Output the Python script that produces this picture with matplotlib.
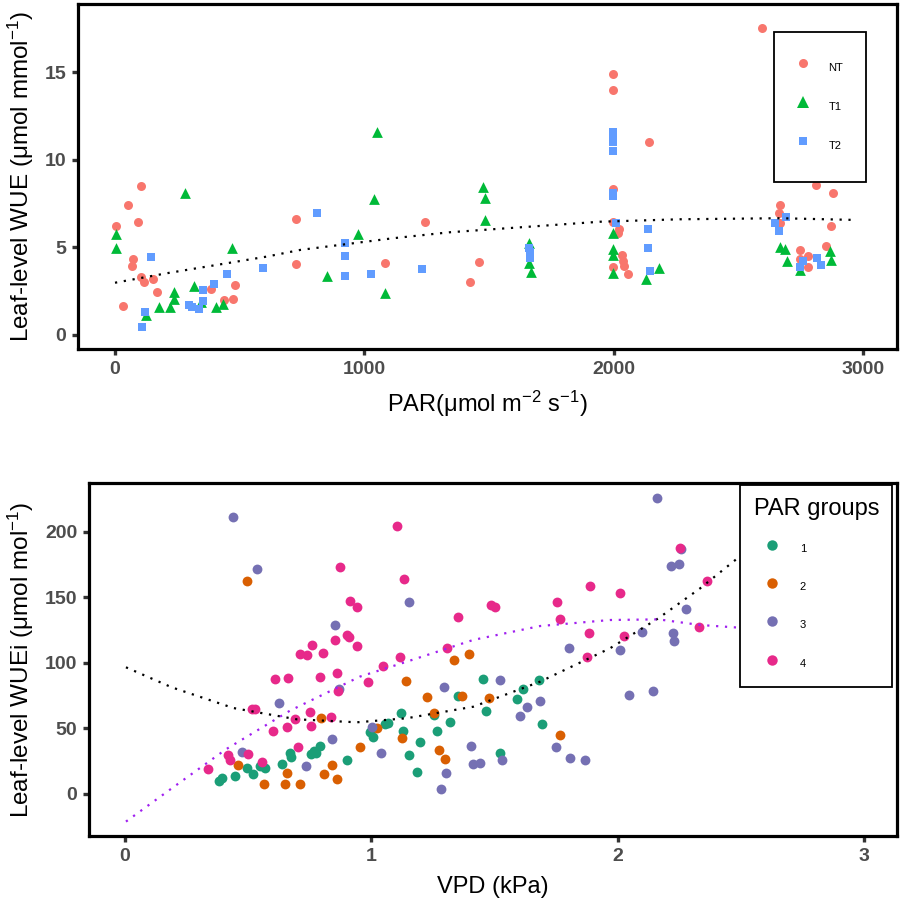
import matplotlib
matplotlib.use("Agg")
import matplotlib.pyplot as plt
from matplotlib import font_manager
from matplotlib.lines import Line2D

# ---------------- data: top panel ----------------
nt_par = [103, 51, 94, 3, 73, 68, 105, 118, 152, 170, 32, 384, 480, 436, 473, 724, 724, 1084,
          1244, 1460, 1422, 2593, 1997, 1997, 2141, 1997, 1997, 2022, 2015, 2033, 2036, 2040,
          1997, 2058, 2809, 2877, 2668, 2661, 2665, 2871, 2745, 2745, 2780, 2780, 2851]
nt_wue = [8.5, 7.4, 6.46, 6.2, 4.34, 3.95, 3.3, 3.05, 3.18, 2.45, 1.65, 2.64, 2.87, 2.0, 2.04, 6.6, 4.07, 4.1,
          6.46, 4.18, 3.0, 17.5, 14.9, 13.98, 11.0, 8.35, 6.46, 6.06, 5.8, 4.56, 4.24, 3.95,
          3.88, 3.48, 8.56, 8.12, 7.43, 6.94, 6.4, 6.24, 4.85, 4.32, 4.5, 3.9, 5.1]

t1_par = [3, 3, 282, 469, 317, 238, 238, 178, 222, 123, 346, 406, 434, 1049, 1038, 974, 851, 1083,
          1477, 1482, 1482, 1661, 1661, 1668, 1997, 1997, 1997, 1997, 2129, 2182, 2668, 2685,
          2693, 2747, 2867, 2870]
t1_wue = [5.78, 4.98, 8.1, 4.98, 2.81, 2.43, 2.07, 1.62, 1.58, 1.12, 1.86, 1.58, 1.77, 11.6, 7.76, 5.78, 3.38, 2.41,
          8.46, 7.8, 6.56, 5.23, 4.09, 3.61, 5.8, 4.89, 4.56, 3.55, 3.19, 3.8, 5.04, 4.89,
          4.22, 3.7, 4.81, 4.28]

t2_par = [144, 122, 107, 295, 307, 337, 351, 353, 398, 448, 595, 809, 922, 922, 922, 1028, 1231,
          1661, 1665, 1665, 1665, 1997, 1997, 1997, 1997, 1997, 1997, 2007, 2138, 2138, 2144,
          2689, 2646, 2664, 2747, 2813, 2832, 2760]
t2_wue = [4.45, 1.31, 0.47, 1.69, 1.61, 1.5, 1.94, 2.55, 2.91, 3.48, 3.84, 6.98, 5.27, 4.53, 3.37, 3.5, 3.75,
          4.95, 4.75, 4.5, 4.37, 11.6, 11.3, 11.0, 10.5, 8.1, 7.95, 6.4, 6.03, 4.95, 3.67,
          6.75, 6.4, 5.95, 3.9, 4.37, 4.0, 4.2]

# fitted curve
fit_par = [0, 207, 608, 742, 1116, 1343, 1945, 2265, 2666, 2974]
fit_wue = [2.98, 3.52, 4.47, 4.85, 5.52, 5.86, 6.46, 6.60, 6.66, 6.56]

# ---------------- data: bottom panel ----------------
g1_vpd = [0.383, 0.392, 0.447, 0.495, 0.520, 0.548, 0.568, 0.636, 0.670, 0.675, 0.754, 0.767, 0.777, 0.792,
          0.900, 1.353, 1.452, 1.681, 1.617, 1.592, 1.466, 1.692, 1.122, 1.256, 1.318, 1.069, 1.056,
          0.993, 1.007, 1.130, 1.268, 1.198, 1.154, 1.184, 1.524]
g1_wue = [9.9, 12.0, 13.7, 19.8, 15.3, 21.4, 19.8, 22.6, 31.0, 28.0, 30.3, 33.1, 31.0, 36.9,
          26.0, 75.1, 87.6, 87.3, 80.2, 72.8, 63.1, 53.4, 62.1, 60.3, 54.7, 54.2, 53.4,
          47.6, 43.7, 48.3, 48.3, 39.9, 30.0, 17.0, 31.5]

g2_vpd = [0.494, 0.794, 0.460, 0.656, 0.566, 0.651, 0.711, 0.807, 0.840, 0.861, 0.955, 1.337, 1.397,
          1.142, 1.228, 1.370, 1.477, 1.256, 1.023, 1.126, 1.275, 1.299, 1.767]
g2_wue = [162.6, 57.8, 22.4, 16.3, 7.9, 7.4, 7.4, 15.3, 21.9, 11.5, 36.1, 102.3, 106.6,
          86.0, 74.3, 75.1, 73.5, 61.6, 50.6, 43.0, 33.6, 26.5, 45.0]

g3_vpd = [0.438, 0.537, 0.851, 0.627, 0.870, 0.474, 0.840, 0.733, 1.154, 1.804, 1.521, 1.294, 1.686,
          1.631, 1.605, 1.004, 1.039, 1.303, 1.283, 1.404, 1.413, 1.441, 1.532, 1.751, 1.805, 1.866,
          2.160, 2.259, 2.217, 2.249, 2.278, 2.099, 2.224, 2.230, 2.008, 2.046, 2.144]
g3_wue = [211.7, 172, 128.8, 69.7, 79.9, 32.3, 41.8, 21.6, 146.6, 111.7, 86.8, 81.7, 71.2,
          66.7, 59.5, 51.4, 31.5, 15.8, 3.8, 36.6, 22.6, 23.4, 25.7, 35.6, 27.7, 25.7,
          225.7, 187, 174, 175.6, 141, 123.7, 122.7, 117, 109.9, 75.6, 78.4]

g4_vpd = [0.874, 0.914, 0.941, 0.903, 0.908, 0.941, 0.851, 0.759, 0.711, 0.738, 0.804, 0.859, 0.793,
          0.610, 0.663, 0.863, 0.514, 0.528, 0.752, 0.835, 0.691, 0.755, 0.658, 0.601, 0.701, 0.419,
          0.428, 0.498, 0.556, 0.337, 1.103, 1.134, 1.353, 1.487, 1.502, 1.754, 1.888, 1.765, 1.885,
          1.874, 1.306, 1.118, 1.049, 0.987, 2.253, 2.362, 2.010, 2.330, 2.026]
g4_wue = [173, 147.3, 142.5, 121.4, 119.6, 113.2, 117.3, 114, 106.9, 106.1, 107.6, 92.6, 89.1,
          88.0, 88.8, 78.9, 64.7, 64.7, 62.4, 58.5, 57.3, 52.2, 51.1, 48.3, 36.1, 29.8,
          25.7, 30.3, 24.7, 19.1, 204.6, 163.9, 135.4, 144.3, 143, 146.6, 158.8, 133.4, 122.7,
          104.6, 111.2, 104.6, 97.5, 85.5, 187.6, 162.8, 153.7, 127.7, 120.6]

# fitted curves
fitA_vpd = [0.004, 0.19, 0.44, 0.697, 0.941, 1.144, 1.414, 1.685, 1.969, 2.165, 2.335, 2.483, 2.6]
fitA_wue = [96.7, 81.4, 65.6, 57.0, 54.7, 57.8, 66.6, 85.7, 111.2, 134.1, 157.0, 179.4, 196.0]
fitB_vpd = [0.004, 0.19, 0.41, 0.67, 0.954, 1.144, 1.414, 1.685, 1.969, 2.165, 2.335, 2.49, 2.6]
fitB_wue = [-21.1, 4.3, 34.1, 63.6, 89.6, 101.0, 117.6, 128.2, 132.8, 133.3, 129.0, 127.0, 124.0]

group_labels = ["1", "2", "3", "4"]
trt_labels = ["NT", "T1", "T2"]

# ---------------- fonts ----------------
names = {f.name for f in font_manager.fontManager.ttflist}
narrow = "Liberation Sans Narrow" if "Liberation Sans Narrow" in names else "Liberation Sans"
regular = "Liberation Sans"
plt.rcParams["font.family"] = [regular, "DejaVu Sans"]

tick_col = "#4D4D4D"

fig = plt.figure(figsize=(9.02, 9.02), dpi=100)
ax1 = fig.add_axes([78 / 902, 1 - 349 / 902, (897 - 78) / 902, 345 / 902])
ax2 = fig.add_axes([89 / 902, 1 - 836 / 902, (897 - 89) / 902, 353 / 902])


def style(ax):
    for s in ax.spines.values():
        s.set_linewidth(2.3)
        s.set_color("black")
    ax.tick_params(axis="both", direction="out", length=4.5, width=2.4, color="#333333",
                   labelcolor=tick_col, labelsize=14, pad=4)
    for lab in ax.get_xticklabels() + ax.get_yticklabels():
        lab.set_fontfamily(narrow)
        lab.set_fontweight("bold")


# ---------- top ----------
c_nt, c_t1, c_t2 = "#F8766D", "#00BA38", "#619CFF"
ax1.scatter(nt_par, nt_wue, s=42, marker="o", color=c_nt, linewidths=0, zorder=2)
ax1.scatter(t1_par, t1_wue, s=60, marker="^", color=c_t1, linewidths=0, zorder=2)
ax1.scatter(t2_par, t2_wue, s=40, marker="s", color=c_t2, linewidths=0, zorder=2)
ax1.plot(fit_par, fit_wue, color="black", lw=1.6, linestyle=(0, (1, 3)), zorder=3)
ax1.set_xlim(-148.4, 3135.5)
ax1.set_ylim(-0.8, 18.88)
ax1.set_xticks([0, 1000, 2000, 3000])
ax1.set_yticks([0, 5, 10, 15])
style(ax1)
ax1.set_xlabel("PAR(μmol m$\\mathregular{^{-2}}$ s$\\mathregular{^{-1}}$)", fontsize=17,
               family=narrow, labelpad=8)
ax1.set_ylabel("Leaf-level WUE (μmol mmol$\\mathregular{^{-1}}$)", fontsize=17.5,
               family=regular, labelpad=6)

h1 = [Line2D([], [], marker="o", ls="", color=c_nt, markersize=6.5, markeredgewidth=0),
      Line2D([], [], marker="^", ls="", color=c_t1, markersize=8, markeredgewidth=0),
      Line2D([], [], marker="s", ls="", color=c_t2, markersize=6, markeredgewidth=0)]
leg1 = ax1.legend(h1, trt_labels, loc="upper left", bbox_to_anchor=(0.850, 0.919),
                  borderaxespad=0, frameon=True, fancybox=False, framealpha=1,
                  edgecolor="black", fontsize=8, borderpad=2.0, labelspacing=1.03,
                  handleheight=3.44, handlelength=1.2, handletextpad=1.7)
leg1.get_frame().set_linewidth(1.3)
leg1.set_zorder(5)

# ---------- bottom ----------
cols = ["#1B9E77", "#D95F02", "#7570B3", "#E7298A"]
for vx, vy, c in zip([g1_vpd, g2_vpd, g3_vpd, g4_vpd], [g1_wue, g2_wue, g3_wue, g4_wue], cols):
    ax2.scatter(vx, vy, s=50, color=c, linewidths=0, zorder=2)
ax2.plot(fitA_vpd, fitA_wue, color="black", lw=1.6, linestyle=(0, (1, 3)), zorder=3)
ax2.plot(fitB_vpd, fitB_wue, color="#A020F0", lw=1.6, linestyle=(0, (1, 3)), zorder=3)
ax2.set_xlim(-0.146, 3.134)
ax2.set_ylim(-32.1, 237.4)
ax2.set_xticks([0, 1, 2, 3])
ax2.set_yticks([0, 50, 100, 150, 200])
style(ax2)
ax2.set_xlabel("VPD (kPa)", fontsize=17, family=narrow, labelpad=8)
ax2.set_ylabel("Leaf-level WUEi (μmol mol$\\mathregular{^{-1}}$)", fontsize=17.5,
               family=regular, labelpad=6)

h2 = [Line2D([], [], marker="o", ls="", color=c, markersize=7.5, markeredgewidth=0) for c in cols]
leg2 = ax2.legend(h2, group_labels, title="PAR groups", loc="upper left",
                  bbox_to_anchor=(0.806, 0.994), borderaxespad=0, frameon=True, fancybox=False,
                  framealpha=1, edgecolor="black", fontsize=8, title_fontsize=17,
                  borderpad=1.2, labelspacing=1.54, handleheight=2.56, handlelength=3.25,
                  handletextpad=0.9, alignment="left")
leg2.get_frame().set_linewidth(1.3)
leg2.set_zorder(5)

fig.savefig("out.png", dpi=100, facecolor="white")
